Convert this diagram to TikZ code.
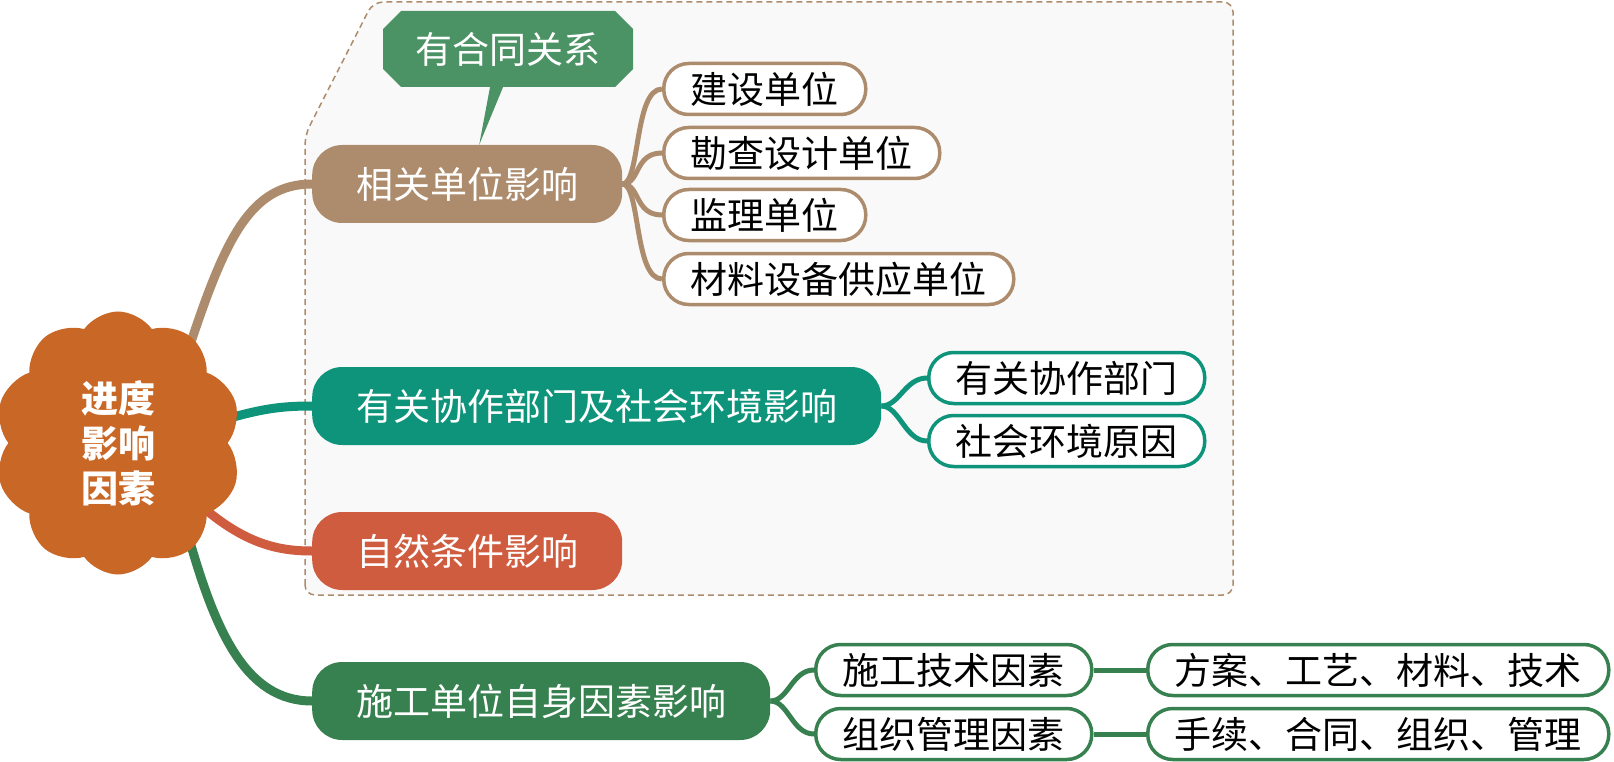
\documentclass[tikz,border=0pt]{standalone}
\usepackage{fontspec}
\setmainfont{Noto Sans CJK SC}
\usetikzlibrary{shapes.misc,shapes.symbols,positioning}

\definecolor{rootorange}{HTML}{C96826}
\definecolor{tanbrown}{HTML}{AD8C6D}
\definecolor{tealgreen}{HTML}{0E947A}
\definecolor{natred}{HTML}{D05C40}
\definecolor{selfgreen}{HTML}{37804F}
\definecolor{tipgreen}{HTML}{4B9264}
\definecolor{panelgray}{HTML}{F9F9F9}

\tikzset{
  mainbox/.style={rectangle, rounded corners=30pt, minimum height=78pt, inner xsep=44pt, inner ysep=0pt, text=white, anchor=west, font=\fontsize{37}{40}\selectfont},
  subbox/.style={rectangle, rounded corners=25pt, draw=#1, line width=3.5pt, fill=white, minimum height=51pt, inner xsep=27pt, inner ysep=0pt, anchor=west, font=\fontsize{37}{40}\selectfont},
  notebox/.style={rectangle, minimum width=250pt, minimum height=76pt, inner sep=0pt, text=white, font=\fontsize{37}{40}\selectfont,
    path picture={\fill[tipgreen] ([xshift=18pt]path picture bounding box.north west) -- ([xshift=-18pt]path picture bounding box.north east)
      -- ([yshift=-18pt]path picture bounding box.north east) -- ([yshift=18pt]path picture bounding box.south east)
      -- ([xshift=-18pt]path picture bounding box.south east) -- ([xshift=18pt]path picture bounding box.south west)
      -- ([yshift=18pt]path picture bounding box.south west) -- ([yshift=-18pt]path picture bounding box.north west) -- cycle;}},
  link/.style={draw=#1, line width=9pt},
  sublink/.style={draw=#1, line width=5pt},
}

\begin{document}
\begin{tikzpicture}[x=1pt,y=-1pt]
\useasboundingbox (0,0) rectangle (1614,762);

% dashed panel round the outside factors
\draw[tanbrown, line width=1.5pt, dash pattern=on 6pt off 4pt, rounded corners=10pt, fill=panelgray] (305,595) -- (305,135) -- (373,2) -- (1233,2) -- (1233,595) -- cycle;

% links from the root (drawn first)
\coordinate (rootc) at (118,443);
\draw[link=tanbrown] ([shift={(72,-98)}]rootc) .. controls (225,240) and (250,184) .. (312,184) coordinate (unitsw);
\draw[link=tealgreen] ([shift={(112,-25)}]rootc) .. controls (265,408) and (285,406) .. (312,406) coordinate (socialw);
\draw[link=natred] ([shift={(80,60)}]rootc) .. controls (245,545) and (280,551) .. (312,551) coordinate (naturew);
\draw[link=selfgreen] ([shift={(70,92)}]rootc) .. controls (215,630) and (245,701) .. (312,701) coordinate (selfw);

\node[cloud, cloud puffs=10, cloud puff arc=110, minimum width=247pt, minimum height=263pt, inner sep=0pt, fill=rootorange, text=white, align=center, font=\fontsize{37}{45}\selectfont\bfseries] (root) at (rootc) {进度\\影响\\因素};

% main branches
\node[mainbox, fill=tanbrown] (units) at (unitsw) {相关单位影响};
\node[mainbox, fill=tealgreen] (social) at (socialw) {有关协作部门及社会环境影响};
\node[mainbox, fill=natred] (nature) at (naturew) {自然条件影响};
\node[mainbox, fill=selfgreen] (self) at (selfw) {施工单位自身因素影响};

% callout
\node[notebox] (contract) at (508,49) {有合同关系};
\fill[tipgreen] ([xshift=-18pt]contract.south) -- ([xshift=-5pt]contract.south) -- ([xshift=12pt]units.north) -- cycle;

% sub nodes
\node[subbox=tanbrown] (owner) at (662,89) {建设单位};
\node[subbox=tanbrown] (survey) at (662,153) {勘查设计单位};
\node[subbox=tanbrown] (supervise) at (662,215) {监理单位};
\node[subbox=tanbrown] (supply) at (662,279) {材料设备供应单位};

\node[subbox=tealgreen] (partner) at (927,378) {有关协作部门};
\node[subbox=tealgreen] (envcause) at (927,441) {社会环境原因};

\node[subbox=selfgreen] (tech) at (814,670) {施工技术因素};
\node[subbox=selfgreen] (manage) at (814,734) {组织管理因素};
\node[subbox=selfgreen] (techitems) at (1146,670) {方案、工艺、材料、技术};
\node[subbox=selfgreen] (manageitems) at (1146,734) {手续、合同、组织、管理};

% sub links
\draw[sublink=tanbrown] (units.east) .. controls +(18,0) and +(-28,0) .. (owner.west);
\draw[sublink=tanbrown] (units.east) .. controls +(18,0) and +(-28,0) .. (survey.west);
\draw[sublink=tanbrown] (units.east) .. controls +(18,0) and +(-28,0) .. (supervise.west);
\draw[sublink=tanbrown] (units.east) .. controls +(18,0) and +(-28,0) .. (supply.west);

\draw[sublink=tealgreen] (social.east) .. controls +(18,0) and +(-22,0) .. (partner.west);
\draw[sublink=tealgreen] (social.east) .. controls +(18,0) and +(-22,0) .. (envcause.west);

\draw[sublink=selfgreen] (self.east) .. controls +(18,0) and +(-22,0) .. (tech.west);
\draw[sublink=selfgreen] (self.east) .. controls +(18,0) and +(-22,0) .. (manage.west);
\draw[sublink=selfgreen] (tech.east) -- (techitems.west);
\draw[sublink=selfgreen] (manage.east) -- (manageitems.west);
\end{tikzpicture}
\end{document}
